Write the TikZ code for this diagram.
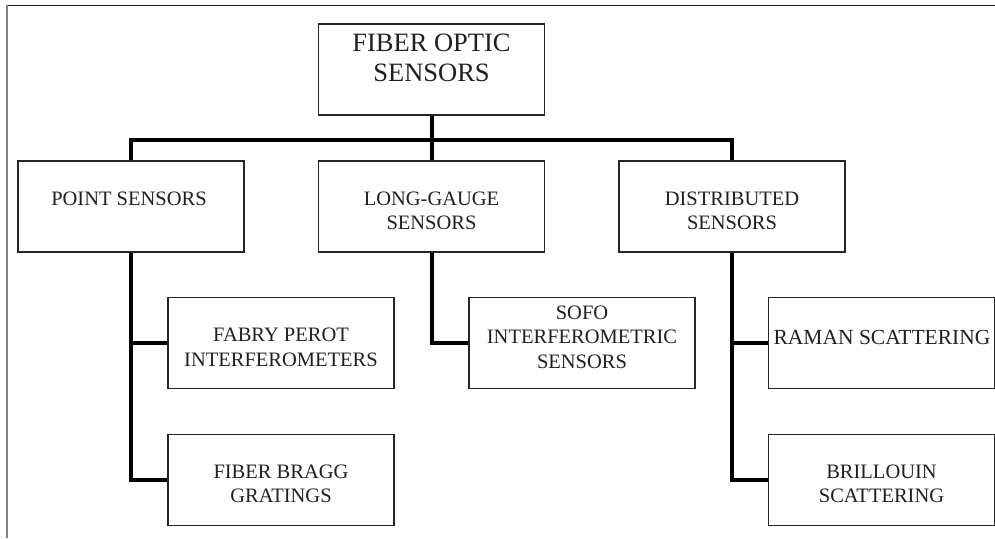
\documentclass[tikz,border=0pt]{standalone}
\usepackage{fontspec}
\setmainfont{Liberation Serif}
\begin{document}
\begin{tikzpicture}[x=1pt,y=-1pt,
  box/.style={draw=black!85, line width=1.3pt, minimum width=226pt, minimum height=91pt, inner sep=0pt},
  txt/.style={inner sep=0pt, align=center, text=black!88, font=\fontsize{20.5}{24.5}\selectfont},
  big/.style={txt, font=\fontsize{26.5}{30}\selectfont},
  conn/.style={line width=4pt, black}]
\useasboundingbox (0,0) rectangle (995,538);
% frame
\draw[black!90, line width=1pt] (995,5) -- (7,5);
\draw[black!50, line width=1.5pt] (7,5) -- (7,538);
% boxes
\node[box] (fos) at (431.5,69.5) {};
\node[box] (point) at (131,206.5) {};
\node[box] (long) at (431.5,206.5) {};
\node[box] (dist) at (732,206.5) {};
\node[box] (fabry) at (281,343) {};
\node[box] (bragg) at (281,480) {};
\node[box] (sofo) at (582,343) {};
\node[box] (raman) at (881.5,343) {};
\node[box] (brill) at (881.5,480) {};
% texts
\node[big] (tfos) at (431.5,58) {FIBER OPTIC\\SENSORS};
\node[txt] (tpoint) at (129,199) {POINT SENSORS};
\node[txt] (tlong) at (431.5,211) {LONG-GAUGE\\SENSORS};
\node[txt] (tdist) at (732,211) {DISTRIBUTED\\SENSORS};
\node[txt] (tfabry) at (281,347.5) {FABRY PEROT\\INTERFEROMETERS};
\node[txt] (tbragg) at (281,484) {FIBER BRAGG\\GRATINGS};
\node[txt] (tsofo) at (582,337) {SOFO\\INTERFEROMETRIC\\SENSORS};
\node[txt, font=\fontsize{21.5}{25}\selectfont] (traman) at (882,337) {RAMAN SCATTERING};
\node[txt] (tbrill) at (881.5,484) {BRILLOUIN\\SCATTERING};
% connectors
\coordinate (bus) at (431.5,140);
\draw[conn] (fos.south) -- (bus);
\draw[conn] (point.north) -- (point.north |- bus) -- (dist.north |- bus) -- (dist.north);
\draw[conn] (bus) -- (long.north);
\draw[conn] (point.south) |- (bragg.west);
\draw[conn] (point.south |- fabry.west) -- (fabry.west);
\draw[conn] (long.south) |- (sofo.west);
\draw[conn] (dist.south) |- (brill.west);
\draw[conn] (dist.south |- raman.west) -- (raman.west);
\end{tikzpicture}
\end{document}
